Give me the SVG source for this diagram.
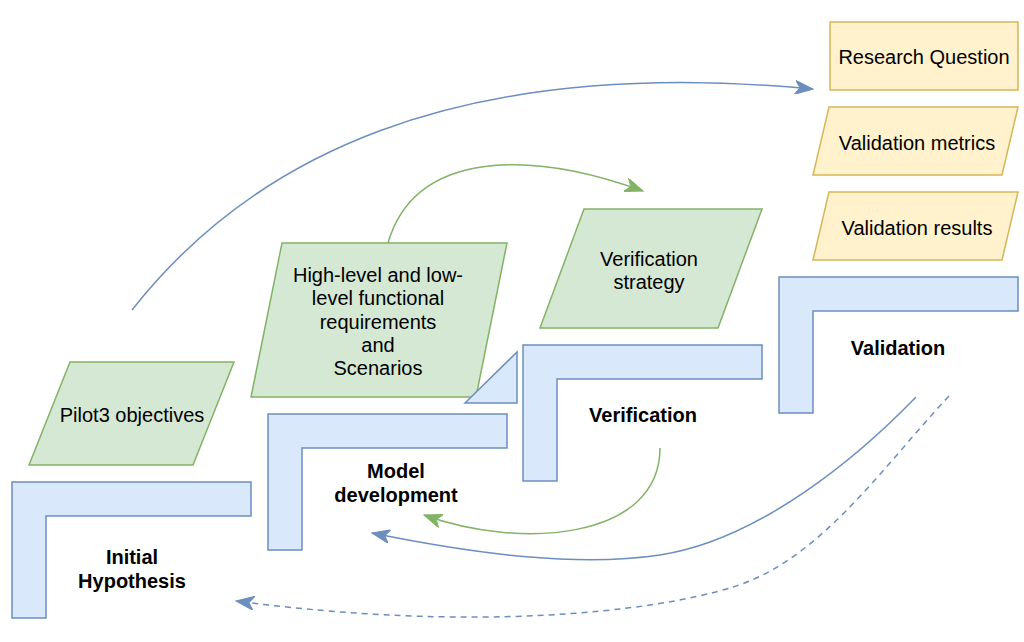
<svg xmlns="http://www.w3.org/2000/svg" width="1024" height="642" viewBox="0 0 1024 642">
<style>
.blue{fill:#dae8fc;stroke:#6c8ebf;stroke-width:1.5}
.green{fill:#d5e8d4;stroke:#82b366;stroke-width:1.5}
.yellow{fill:#fff2cc;stroke:#d6b656;stroke-width:1.5}
text{font-family:"Liberation Sans",Arial,Helvetica,sans-serif;font-size:20px;fill:#000;text-anchor:middle}
.b{font-weight:bold}
.eb{fill:none;stroke:#6c8ebf;stroke-width:1.5}
.eg{fill:none;stroke:#82b366;stroke-width:1.5}
.dash{stroke-dasharray:6 5}
</style>
<defs>
<marker id="ab" viewBox="0 0 20 14" refX="18" refY="7" markerWidth="20" markerHeight="14" markerUnits="userSpaceOnUse" orient="auto">
<path d="M0,0 L18,7 L0,14 L5,7 Z" fill="#6c8ebf" stroke="#6c8ebf" stroke-width="1"/>
</marker>
<marker id="ag" viewBox="0 0 20 14" refX="18" refY="7" markerWidth="20" markerHeight="14" markerUnits="userSpaceOnUse" orient="auto">
<path d="M0,0 L18,7 L0,14 L5,7 Z" fill="#82b366" stroke="#82b366" stroke-width="1"/>
</marker>
</defs>

<g id="initial-hypothesis">
<polygon class="blue" points="12,482 251,482 251,516 46,516 46,618 12,618"/>
<text class="b" x="132" y="564">Initial</text>
<text class="b" x="132" y="588">Hypothesis</text>
</g>
<g id="pilot3-objectives">
<polygon class="green" points="70,362 234,362 193,465 29,465"/>
<text x="132" y="422">Pilot3 objectives</text>
</g>
<g id="model-development">
<polygon class="blue" points="268,414 507,414 507,448 302,448 302,550 268,550"/>
<text class="b" x="396" y="478">Model</text>
<text class="b" x="396" y="502">development</text>
</g>
<g id="requirements">
<polygon class="green" points="282,243 507,243 476,397 251,397"/>
<text x="378" y="282">High-level and low-</text>
<text x="378" y="305">level functional</text>
<text x="378" y="329">requirements</text>
<text x="378" y="352">and</text>
<text x="378" y="375">Scenarios</text>
</g>
<g id="triangle">
<polygon class="blue" points="465,403 517,352 517,403"/>
</g>
<g id="verification">
<polygon class="blue" points="523,345 762,345 762,379 557,379 557,481 523,481"/>
<text class="b" x="643" y="422">Verification</text>
</g>
<g id="verification-strategy">
<polygon class="green" points="584,209 762,209 718,328 540,328"/>
<text x="649" y="266">Verification</text>
<text x="649" y="289">strategy</text>
</g>
<g id="validation">
<polygon class="blue" points="779,277 1018,277 1018,311 813,311 813,413 779,413"/>
<text class="b" x="898" y="355">Validation</text>
</g>
<g id="research-question">
<rect class="yellow" x="830" y="22" width="188" height="68"/>
<text x="924" y="64">Research Question</text>
</g>
<g id="validation-metrics">
<polygon class="yellow" points="829,107 1018,107 1002,175 813,175"/>
<text x="917" y="150">Validation metrics</text>
</g>
<g id="validation-results">
<polygon class="yellow" points="829,192 1018,192 1002,260 813,260"/>
<text x="917" y="235">Validation results</text>
</g>

<g id="connectors">
<path class="eb" d="M132,310 C250,160 450,55 813,89" marker-end="url(#ab)"/>
<path class="eg" d="M388,243 C415,150 530,150 643,191" marker-end="url(#ag)"/>
<path class="eg" d="M660,448 C660,540 520,550 424,515" marker-end="url(#ag)"/>
<path class="eb" d="M916,397 C860,455 760,540 660,555 C580,567 480,555 372,533" marker-end="url(#ab)"/>
<path class="eb dash" d="M949,396 C880,470 820,560 733,587 C650,613 470,632 236,601" marker-end="url(#ab)"/>
</g>
</svg>
